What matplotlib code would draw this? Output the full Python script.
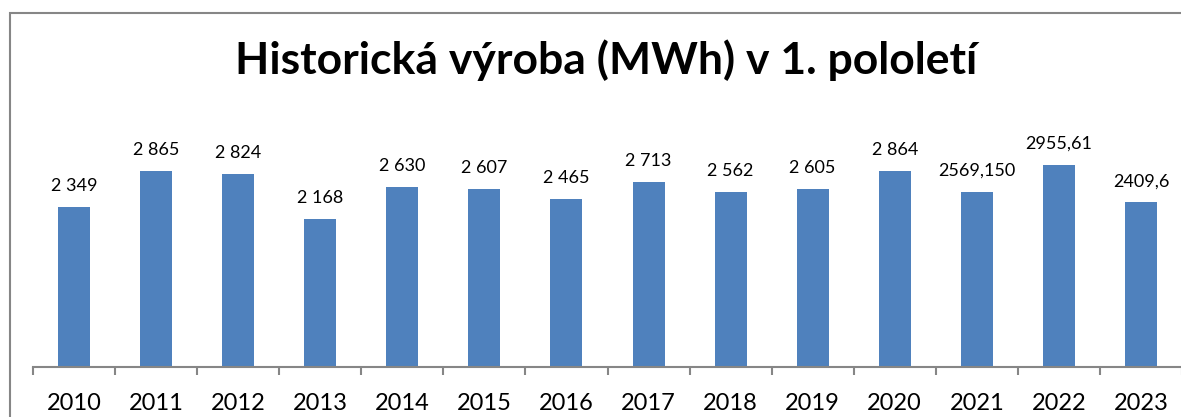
import matplotlib.pyplot as plt
from matplotlib.patches import Rectangle
import numpy as np

years = ["2010", "2011", "2012", "2013", "2014", "2015", "2016",
         "2017", "2018", "2019", "2020", "2021", "2022", "2023"]
values = [2349, 2865, 2824, 2168, 2630, 2607, 2465,
          2713, 2562, 2605, 2864, 2569.150, 2955.61, 2409.6]
value_labels = ["2 349", "2 865", "2 824", "2 168", "2 630", "2 607", "2 465",
                "2 713", "2 562", "2 605", "2 864", "2569,150", "2955,61", "2409,6"]

plt.rcParams["font.family"] = ["Lato", "DejaVu Sans"]

W, H = 1181, 417
fig = plt.figure(figsize=(W / 100, H / 100), dpi=100)

# chart border (cut off at right and bottom in the original)
fig.patches.append(Rectangle((10 / W, -0.1), 1.2, (H - 13) / H + 0.1,
                             transform=fig.transFigure, fill=False,
                             edgecolor="#868686", linewidth=1.5))

ax_left, ax_right = 33 / W, 1182 / W
ax_bottom, ax_top = (H - 367) / H, (H - 120) / H
ax = fig.add_axes([ax_left, ax_bottom, ax_right - ax_left, ax_top - ax_bottom])

x = np.arange(len(years))
bars = ax.bar(x, values, width=0.39, color="#4F81BD")

ax.set_xlim(-0.5, len(years) - 0.5)
ax.set_ylim(0, 3616)

for xi, v, lab in zip(x, values, value_labels):
    ax.annotate(lab, (xi, v), xytext=(0, 13), textcoords="offset pixels",
                ha="center", va="bottom", fontsize=13, color="black",
                annotation_clip=False)

for side in ["top", "right", "left"]:
    ax.spines[side].set_visible(False)
ax.spines["bottom"].set_color("#868686")
ax.spines["bottom"].set_linewidth(1.5)

ax.set_yticks([])
ax.set_xticks(x)
ax.set_xticklabels(years, fontsize=17)
ax.tick_params(axis="x", which="major", length=0, pad=19)
ax.set_xticks(np.arange(-0.5, len(years), 1.0), minor=True)
ax.tick_params(axis="x", which="minor", length=6, width=1.5, color="#868686")

fig.text(0.513, (H - 60) / H, "Historická výroba (MWh) v 1. pololetí",
         ha="center", va="center", fontsize=32, fontweight="bold")

fig.savefig("out.png", dpi=100)
